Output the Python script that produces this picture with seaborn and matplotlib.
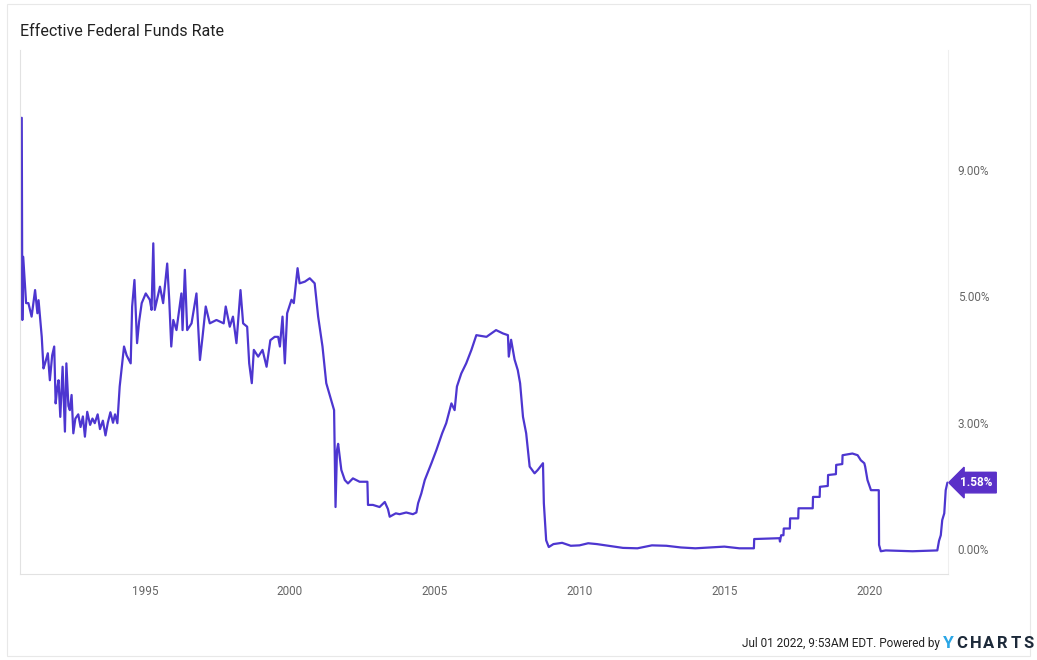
import pandas as pd
import matplotlib.pyplot as plt
import matplotlib.transforms as mtransforms
from matplotlib.patches import Rectangle
import seaborn as sns

sns.set_style("white")
plt.rcParams['font.family'] = ['Roboto', 'DejaVu Sans']

LINE = "#4d36d0"
BOX = "#5a30c8"

# Data (decimal years / percent)
years = [
    1990.75, 1990.77, 1990.80, 1990.90, 1990.98, 1991.09, 1991.21, 1991.29, 1991.33, 1991.44,
    1991.50, 1991.55, 1991.65, 1991.72, 1991.80, 1991.87, 1991.92, 1991.97, 1992.02, 1992.08,
    1992.16, 1992.24, 1992.29, 1992.36, 1992.41, 1992.47, 1992.53, 1992.60, 1992.70, 1992.78,
    1992.86, 1992.93, 1993.01, 1993.11, 1993.19, 1993.27, 1993.37, 1993.45, 1993.55, 1993.64,
    1993.72, 1993.81, 1993.90, 1993.97, 1994.05, 1994.13, 1994.28, 1994.37, 1994.51, 1994.56,
    1994.64, 1994.73, 1994.80, 1994.89, 1995.03, 1995.17, 1995.23, 1995.29, 1995.34, 1995.52,
    1995.63, 1995.77, 1995.84, 1995.91, 1995.98, 1996.09, 1996.26, 1996.30, 1996.38, 1996.46,
    1996.61, 1996.78, 1996.90, 1996.99, 1997.10, 1997.24, 1997.47, 1997.72, 1997.79, 1997.93,
    1998.04, 1998.16, 1998.30, 1998.39, 1998.53, 1998.60, 1998.69, 1998.76, 1998.91, 1999.06,
    1999.20, 1999.33, 1999.48, 1999.60, 1999.66, 1999.75, 1999.83, 1999.91, 2000.06, 2000.14,
    2000.27, 2000.34, 2000.52, 2000.69, 2000.86, 2000.98, 2001.13, 2001.26, 2001.36, 2001.44,
    2001.53, 2001.58, 2001.63, 2001.67, 2001.78, 2001.90, 2002.01, 2002.18, 2002.41, 2002.68,
    2002.70, 2002.87, 2003.10, 2003.28, 2003.39, 2003.45, 2003.66, 2003.79, 2004.02, 2004.25,
    2004.37, 2004.43, 2004.54, 2004.66, 2004.89, 2005.06, 2005.26, 2005.40, 2005.58, 2005.69,
    2005.77, 2005.92, 2006.09, 2006.27, 2006.44, 2006.79, 2007.12, 2007.36, 2007.53, 2007.56,
    2007.64, 2007.76, 2007.87, 2007.95, 2008.05, 2008.16, 2008.28, 2008.45, 2008.56, 2008.74,
    2008.77, 2008.85, 2008.94, 2009.10, 2009.40, 2009.70, 2010.00, 2010.30, 2010.60, 2011.00,
    2011.50, 2012.00, 2012.50, 2013.00, 2013.50, 2014.00, 2014.50, 2015.00, 2015.52, 2016.02,
    2016.03, 2016.90, 2016.92, 2016.96, 2017.04, 2017.05, 2017.26, 2017.27, 2017.55, 2017.56,
    2018.05, 2018.06, 2018.29, 2018.30, 2018.57, 2018.58, 2018.85, 2018.86, 2019.07, 2019.08,
    2019.42, 2019.60, 2019.71, 2019.83, 2019.86, 2019.94, 2020.06, 2020.33, 2020.34, 2020.40,
    2020.57, 2021.49, 2022.35, 2022.41, 2022.47, 2022.52, 2022.59, 2022.64, 2022.70,
]
rates = [
    10.24, 5.44, 6.94, 5.84, 5.84, 5.52, 6.15, 5.60, 5.91, 5.04,
    4.29, 4.40, 4.65, 4.01, 4.60, 4.81, 3.46, 3.80, 4.01, 3.14,
    4.33, 2.79, 4.41, 3.40, 3.30, 3.66, 2.75, 3.10, 3.20, 2.90,
    3.15, 2.67, 3.26, 2.95, 3.10, 2.99, 3.20, 2.85, 3.05, 2.70,
    3.00, 3.25, 3.00, 3.20, 2.99, 3.86, 4.81, 4.60, 4.41, 5.76,
    6.39, 4.89, 5.40, 5.84, 6.07, 5.92, 5.68, 7.26, 5.68, 6.23,
    5.84, 6.78, 5.92, 4.81, 5.44, 5.20, 6.07, 5.20, 6.63, 5.20,
    5.36, 6.07, 4.49, 5.04, 5.76, 5.36, 5.44, 5.36, 5.76, 5.28,
    5.52, 4.89, 6.15, 5.36, 5.28, 4.41, 3.94, 4.73, 4.57, 4.73,
    4.33, 4.96, 5.04, 5.04, 4.81, 5.52, 4.41, 5.60, 5.92, 5.84,
    6.67, 6.31, 6.35, 6.43, 6.31, 5.52, 4.81, 3.94, 3.70, 3.50,
    3.30, 1.00, 2.35, 2.50, 1.88, 1.64, 1.56, 1.68, 1.60, 1.60,
    1.05, 1.05, 1.00, 1.12, 0.95, 0.77, 0.85, 0.83, 0.87, 0.83,
    0.87, 1.09, 1.32, 1.64, 2.04, 2.35, 2.75, 2.99, 3.46, 3.30,
    3.86, 4.17, 4.41, 4.73, 5.08, 5.04, 5.20, 5.12, 5.08, 4.57,
    4.97, 4.50, 4.25, 3.94, 3.14, 2.75, 1.96, 1.80, 1.88, 2.04,
    1.09, 0.21, 0.05, 0.12, 0.15, 0.08, 0.09, 0.14, 0.12, 0.08,
    0.03, 0.02, 0.09, 0.08, 0.04, 0.02, 0.04, 0.06, 0.02, 0.02,
    0.24, 0.26, 0.18, 0.33, 0.33, 0.49, 0.49, 0.73, 0.73, 0.97,
    0.97, 1.24, 1.24, 1.48, 1.50, 1.76, 1.78, 2.00, 2.02, 2.23,
    2.27, 2.23, 2.11, 2.04, 1.96, 1.64, 1.40, 1.40, 0.10, -0.05,
    -0.03, -0.05, -0.03, 0.20, 0.33, 0.69, 0.85, 1.40, 1.58,
]

year_ticks = [1995, 2000, 2005, 2010, 2015, 2020]
rate_ticks = [0, 3, 6, 9]
rate_labels = ["0.00%", "3.00%", "5.00%", "9.00%"]
last_label = "1.58%"

df = pd.DataFrame({"year": years, "rate": rates})

fig = plt.figure(figsize=(10.37, 6.6), dpi=100)
ax = fig.add_axes([0.0193, 0.1303, 0.8949, 0.794])

sns.lineplot(data=df, x="year", y="rate", ax=ax, color=LINE, linewidth=1.6, sort=False)

ax.set_xlim(1990.69, 2022.72)
ax.set_ylim(-0.59, 11.85)
ax.set_xticks(year_ticks)
ax.set_xticklabels([str(y) for y in year_ticks])
ax.set_yticks(rate_ticks)
ax.set_yticklabels(rate_labels)
ax.yaxis.tick_right()
ax.tick_params(axis="both", length=0, labelsize=8.5, colors="#666666")
ax.tick_params(axis="y", pad=7)
ax.tick_params(axis="x", pad=8)
ax.set_xlabel("")
ax.set_ylabel("")
ax.grid(False)

for side in ["left", "bottom"]:
    ax.spines[side].set_color("#e2e2e2")
    ax.spines[side].set_linewidth(0.8)
ax.spines["right"].set_color("#efefef")
ax.spines["right"].set_linewidth(0.8)
ax.spines["top"].set_visible(False)

# last value tag
trans = mtransforms.blended_transform_factory(ax.transAxes, ax.transData)
ax.text(1.013, rates[-1], last_label, transform=trans, ha="left", va="center",
        fontsize=8.5, fontweight="bold", color="white",
        bbox=dict(boxstyle="larrow,pad=0.32", fc=BOX, ec=BOX))

fig.text(20 / 1037, 1 - 32 / 660, "Effective Federal Funds Rate", ha="left", va="center",
         fontsize=11.5, color="#222222")

fig.text(940 / 1037, 1 - 643 / 660, "Jul 01 2022, 9:53AM EDT. Powered by", ha="right",
         va="center", fontsize=8.5, color="#222222")
fig.text(943 / 1037, 1 - 643 / 660, "Y", ha="left", va="center", fontsize=12.5,
         fontweight="bold", color="#2aa6e6")
for i, ch in enumerate("CHARTS"):
    fig.text((962 + i * 13.4) / 1037, 1 - 643 / 660, ch, ha="center", va="center",
             fontsize=12, fontweight="bold", color="#1d2a3a")

fig.patches.append(Rectangle((7 / 1037, 4 / 660), 1 - 14 / 1037, 1 - 8 / 660,
                             transform=fig.transFigure, fill=False, ec="#e8e8e8", lw=0.8))

fig.savefig("out.png", dpi=100)
